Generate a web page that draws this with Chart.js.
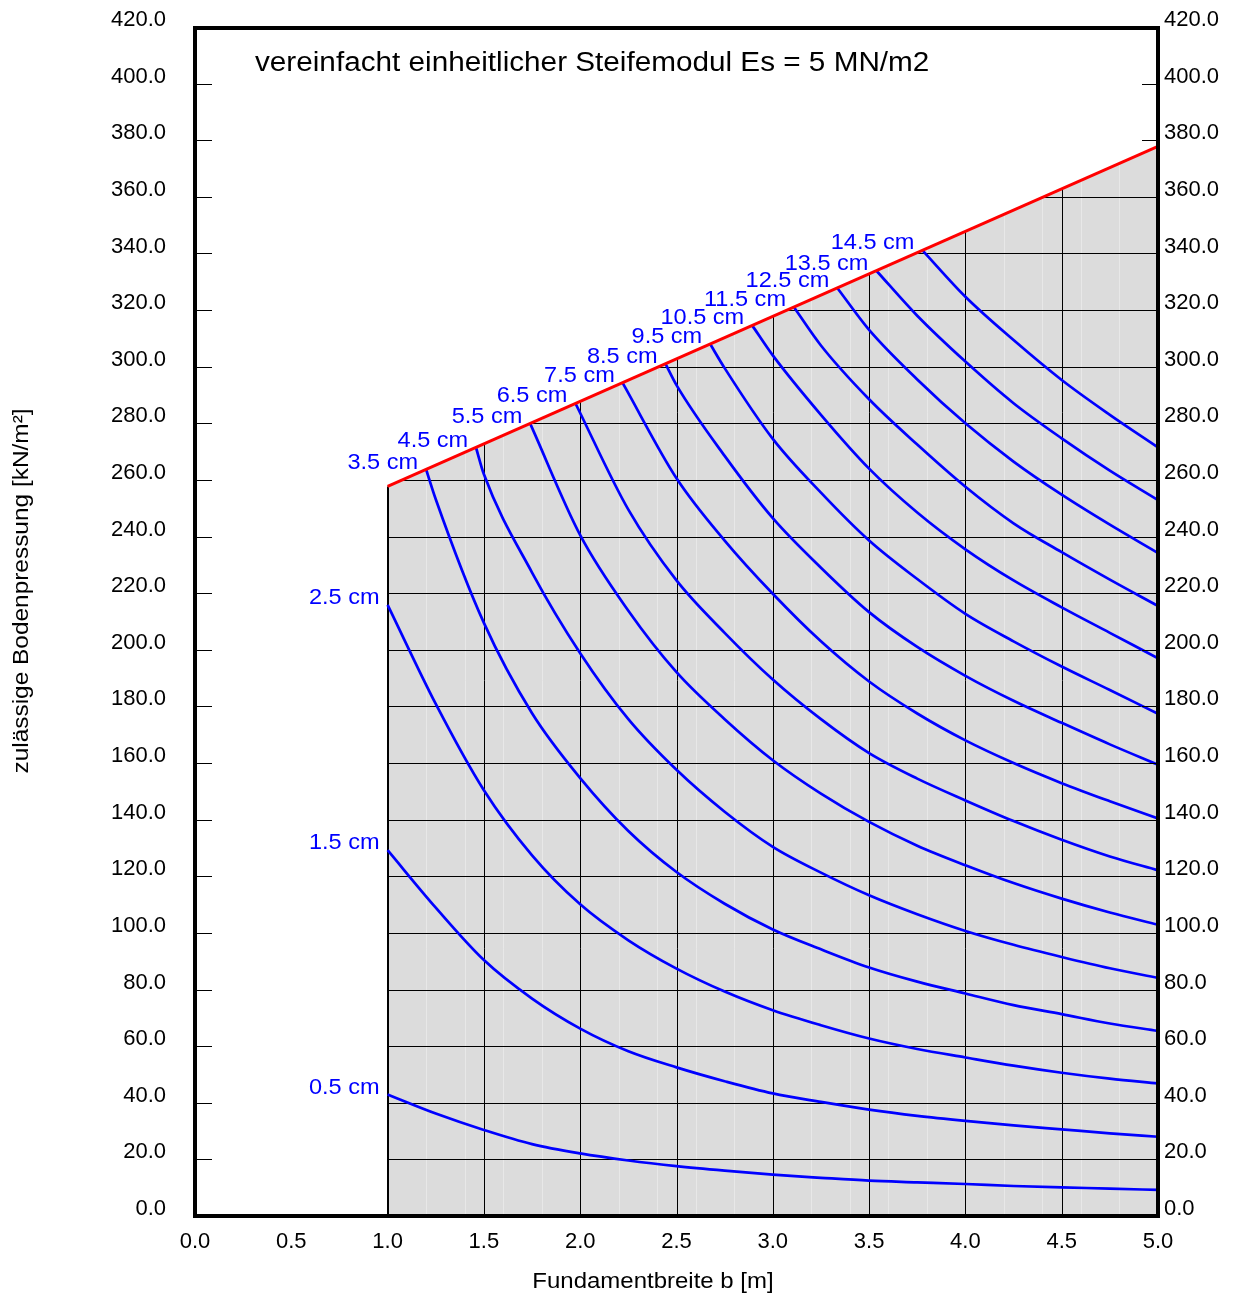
<!DOCTYPE html>
<html>
<head>
<meta charset="utf-8">
<script src="https://cdn.jsdelivr.net/npm/chart.js@4.4.1/dist/chart.umd.min.js"></script>
<style>
  html, body { margin: 0; padding: 0; background: #fff; }
  canvas { display: block; }
</style>
</head>
<body>
<canvas id="myChart" width="1238" height="1296"></canvas>
<script>
// x positions (Fundamentbreite b) where the curves were read
const xGrid = [1.0, 1.25, 1.5, 1.75, 2.0, 2.25, 2.5, 2.75, 3.0, 3.25, 3.5, 3.75, 4.0, 4.25, 4.5, 4.75, 5.0];

const curveLabels = ['0.5 cm', '1.5 cm', '2.5 cm', '3.5 cm', '4.5 cm', '5.5 cm', '6.5 cm', '7.5 cm',
                     '8.5 cm', '9.5 cm', '10.5 cm', '11.5 cm', '12.5 cm', '13.5 cm', '14.5 cm'];

// first point of every curve (x = 1.0 or on the red line)
const startX = [1.0, 1.0, 1.0, 1.2, 1.46, 1.741, 1.975, 2.221, 2.443, 2.675, 2.893, 3.11, 3.335, 3.538, 3.777];
const startY = [42.9, 129.2, 215.9, 263.7, 271.2, 279.8, 287.1, 294.2, 301.0, 308.0, 314.6, 321.0, 327.8, 333.9, 341.1];

// zulaessige Bodenpressung along xGrid, one array per settlement
const s05  = [null, 36.2, 30.4, 25.4, 22.1, 19.6, 17.6, 16.0, 14.6, 13.5, 12.5, 11.9, 11.3, 10.6, 10.1, 9.7, 9.2];
const s15  = [null, 108.9, 90.4, 76.8, 66.2, 58.2, 52.5, 47.6, 43.3, 40.3, 37.6, 35.4, 33.6, 32.0, 30.6, 29.2, 28.0];
const s25  = [null, 180.9, 150.4, 127.4, 110.1, 97.4, 87.4, 79.3, 72.7, 67.4, 62.7, 59.0, 56.0, 53.1, 50.6, 48.5, 46.8];
const s35  = [null, 253.2, 209.5, 177.6, 154.7, 136.0, 121.5, 110.3, 101.2, 94.2, 87.8, 82.8, 78.6, 74.5, 71.3, 68.0, 65.4];
const s45  = [null, null, 262.0, 227.3, 198.8, 175.5, 157.6, 142.8, 130.4, 121.3, 113.3, 106.6, 100.7, 95.8, 91.5, 87.5, 84.1];
const s55  = [null, null, null, null, 240.5, 213.8, 192.1, 175.5, 161.0, 149.2, 139.2, 130.8, 123.9, 117.6, 112.1, 107.2, 102.9];
const s65  = [null, null, null, null, null, 249.5, 224.5, 206.0, 189.5, 175.5, 163.5, 154.5, 146.8, 139.5, 132.9, 127.0, 122.1];
const s75  = [null, null, null, null, null, null, 260.6, 238.6, 219.8, 203.0, 188.8, 177.5, 168.0, 160.0, 152.9, 146.5, 140.4];
const s85  = [null, null, null, null, null, null, 293.5, 268.5, 246.5, 229.0, 213.3, 201.0, 190.8, 182.0, 174.2, 166.6, 159.4];
const s95  = [null, null, null, null, null, null, null, 299.5, 274.5, 255.5, 238.6, 225.0, 212.7, 203.0, 194.1, 185.8, 177.4];
const s105 = [null, null, null, null, null, null, null, null, 304.0, 283.0, 264.0, 248.5, 235.5, 224.5, 215.0, 206.0, 197.0];
const s115 = [null, null, null, null, null, null, null, null, null, 307.5, 288.5, 272.5, 257.6, 244.7, 234.5, 224.8, 215.5];
const s125 = [null, null, null, null, null, null, null, null, null, null, 313.0, 295.5, 280.0, 266.5, 254.8, 244.2, 234.2];
const s135 = [null, null, null, null, null, null, null, null, null, null, null, 318.0, 301.8, 287.1, 274.7, 263.3, 252.9];
const s145 = [null, null, null, null, null, null, null, null, null, null, null, null, 324.7, 309.4, 295.3, 283.0, 271.5];

// red limit line
const redX = [1.0, 5.0];
const redY = [257.7, 377.8];

// grid inside the grey area
const gridX = [1.5, 2.0, 2.5, 3.0, 3.5, 4.0, 4.5];
const minorX = [1.2, 1.4, 1.6, 1.8, 2.2, 2.4, 2.6, 2.8, 3.2, 3.4, 3.6, 3.8, 4.2, 4.4, 4.6, 4.8];
const gridY = [20, 40, 60, 80, 100, 120, 140, 160, 180, 200, 220, 240, 260, 280, 300, 320, 340, 360, 380, 400];

const chartTitle = 'vereinfacht einheitlicher Steifemodul Es = 5 MN/m2';
const xTitle = 'Fundamentbreite b [m]';
const yTitle = 'zulässige Bodenpressung [kN/m²]';

const FONT = '"Liberation Sans", Arial, sans-serif';
Chart.defaults.font.family = FONT;
Chart.defaults.color = '#000';

const curveValues = [s05, s15, s25, s35, s45, s55, s65, s75, s85, s95, s105, s115, s125, s135, s145];

const curveSets = curveValues.map(function (vals, i) {
  var pts = [{ x: startX[i], y: startY[i] }];
  for (var j = 0; j < xGrid.length; j++) {
    if (vals[j] !== null && xGrid[j] > startX[i] + 0.02) pts.push({ x: xGrid[j], y: vals[j] });
  }
  return {
    label: curveLabels[i],
    data: pts,
    borderColor: '#0000ff',
    borderWidth: 2.7,
    pointRadius: 0,
    cubicInterpolationMode: 'monotone',
    fill: false
  };
});

const redSet = {
  label: 'Grenze',
  data: redX.map(function (x, i) { return { x: x, y: redY[i] }; }),
  borderColor: '#ff0000',
  borderWidth: 3,
  pointRadius: 0,
  fill: false
};

function px(v, lw) {
  var p = Math.round(v);
  return (lw % 2 === 1) ? p + 0.5 : p;
}

// text a little wider than the font, like in the original
function wideText(ctx, text, x, y, sx) {
  ctx.save();
  ctx.translate(x, y);
  ctx.scale(sx, 1);
  ctx.fillText(text, 0, 0);
  ctx.restore();
}

const soilPlugin = {
  id: 'soil',
  beforeDatasetsDraw(chart) {
    const ctx = chart.ctx, xs = chart.scales.x, ys = chart.scales.y;
    const X = function (v) { return xs.getPixelForValue(v); };
    const Y = function (v) { return ys.getPixelForValue(v); };
    ctx.save();
    ctx.beginPath();
    ctx.moveTo(X(redX[0]), Y(0));
    for (var i = 0; i < redX.length; i++) ctx.lineTo(X(redX[i]), Y(redY[i]));
    ctx.lineTo(X(redX[redX.length - 1]), Y(0));
    ctx.closePath();
    ctx.fillStyle = '#dcdcdc';
    ctx.fill();
    ctx.clip();

    ctx.lineWidth = 1;
    ctx.strokeStyle = '#e8e8e8';
    minorX.forEach(function (v) {
      ctx.beginPath();
      ctx.moveTo(px(X(v), 1), Y(0));
      ctx.lineTo(px(X(v), 1), Y(420));
      ctx.stroke();
    });

    ctx.strokeStyle = '#000';
    gridX.forEach(function (v) {
      ctx.beginPath();
      ctx.moveTo(px(X(v), 1), Y(0));
      ctx.lineTo(px(X(v), 1), Y(420));
      ctx.stroke();
    });
    gridY.forEach(function (v) {
      ctx.beginPath();
      ctx.moveTo(X(0), px(Y(v), 1));
      ctx.lineTo(X(5), px(Y(v), 1));
      ctx.stroke();
    });
    ctx.restore();

    // left edge of the grey area
    ctx.save();
    ctx.strokeStyle = '#000';
    ctx.lineWidth = 2;
    ctx.beginPath();
    ctx.moveTo(px(X(redX[0]), 2), Y(0));
    ctx.lineTo(px(X(redX[0]), 2), Y(redY[0]));
    ctx.stroke();
    ctx.restore();
  },
  afterDatasetsDraw(chart) {
    const ctx = chart.ctx, xs = chart.scales.x, ys = chart.scales.y;
    ctx.save();
    ctx.font = '22px ' + FONT;
    ctx.fillStyle = '#0000ff';
    ctx.textAlign = 'right';
    ctx.textBaseline = 'middle';
    for (var i = 0; i < curveLabels.length; i++) {
      wideText(ctx, curveLabels[i], xs.getPixelForValue(startX[i]) - 8, ys.getPixelForValue(startY[i]) - 7, 1.07);
    }
    ctx.restore();
  },
  afterDraw(chart) {
    const ctx = chart.ctx, a = chart.chartArea, ys = chart.scales.y;
    ctx.save();
    // inward tick marks on both sides
    ctx.strokeStyle = '#000';
    ctx.lineWidth = 1;
    gridY.forEach(function (v) {
      var y = px(ys.getPixelForValue(v), 1);
      ctx.beginPath();
      ctx.moveTo(a.left, y); ctx.lineTo(a.left + 17, y);
      ctx.moveTo(a.right - 16, y); ctx.lineTo(a.right, y);
      ctx.stroke();
    });
    // frame
    ctx.lineWidth = 4;
    ctx.strokeRect(a.left, a.top + 1, a.right - a.left, a.bottom - a.top - 1);

    ctx.fillStyle = '#000';
    ctx.font = '27px ' + FONT;
    ctx.textAlign = 'left';
    ctx.textBaseline = 'middle';
    wideText(ctx, chartTitle, 255, 64, 1.1);

    ctx.font = '22px ' + FONT;
    ctx.textAlign = 'center';
    wideText(ctx, xTitle, 653, 1282, 1.09);

    ctx.translate(22, 591);
    ctx.rotate(-Math.PI / 2);
    wideText(ctx, yTitle, 0, 0, 1.11);
    ctx.restore();
  }
};

const tickFmt = function (v) { return Number(v).toFixed(1); };

function fixV(width) {
  return function (s) { s.width = width; s.paddingTop = 0; s.paddingBottom = 0; };
}

const config = {
  type: 'line',
  data: { datasets: [redSet].concat(curveSets) },
  options: {
    responsive: false,
    animation: false,
    devicePixelRatio: 1,
    layout: { padding: { top: 27, left: 0, right: 0, bottom: 0 } },
    plugins: { legend: { display: false }, tooltip: { enabled: false } },
    scales: {
      x: {
        type: 'linear', min: 0, max: 5,
        grid: { display: false }, border: { display: false },
        ticks: { stepSize: 0.5, autoSkip: false, padding: 5, font: { size: 22 }, callback: tickFmt },
        afterFit: function (s) { s.height = 80; s.paddingLeft = 0; s.paddingRight = 0; }
      },
      y: {
        position: 'left', min: 0, max: 420,
        grid: { display: false, drawTicks: false }, border: { display: false },
        ticks: { stepSize: 20, autoSkip: false, padding: 29, labelOffset: -7, font: { size: 22 }, callback: tickFmt },
        afterFit: fixV(195)
      },
      y2: {
        position: 'right', min: 0, max: 420,
        grid: { display: false, drawTicks: false }, border: { display: false },
        ticks: { stepSize: 20, autoSkip: false, padding: 6, labelOffset: -7, font: { size: 22 }, callback: tickFmt },
        afterFit: fixV(80)
      }
    }
  },
  plugins: [soilPlugin]
};

const myChart = new Chart(document.getElementById('myChart'), config);
</script>
</body>
</html>
